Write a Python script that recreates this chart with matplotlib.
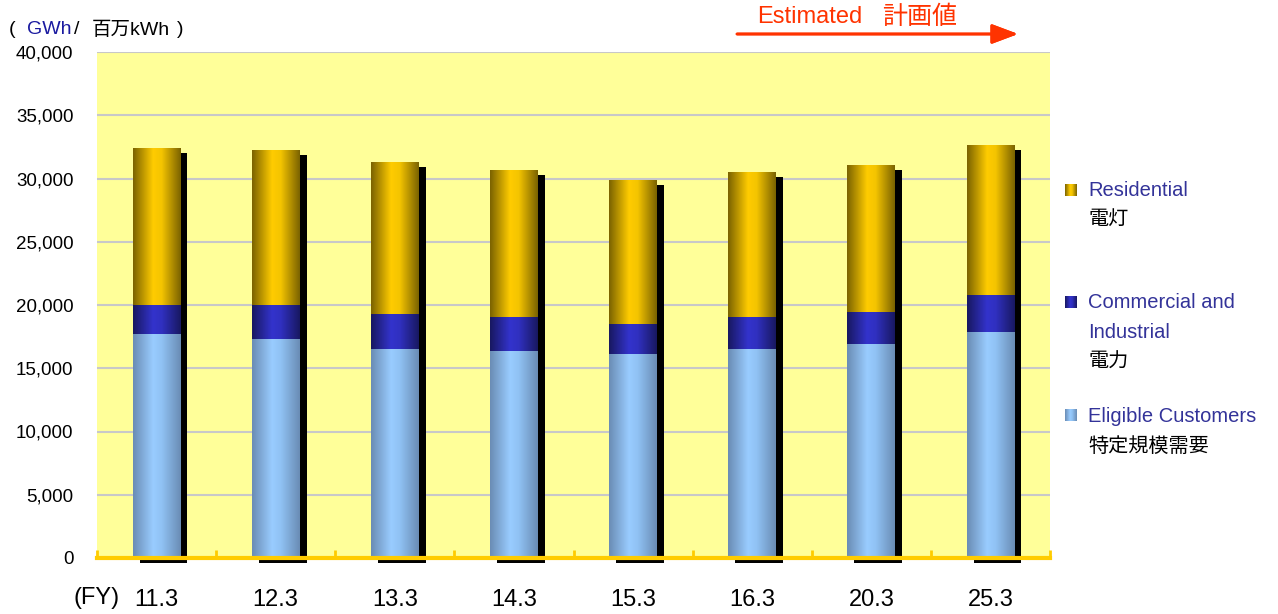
import numpy as np
import matplotlib
matplotlib.use('Agg')
import matplotlib.pyplot as plt
from matplotlib.colors import LinearSegmentedColormap
from matplotlib.transforms import ScaledTranslation
from matplotlib.ticker import FuncFormatter, FixedLocator

plt.rcParams['font.family'] = ['Liberation Sans', 'Noto Sans CJK JP', 'DejaVu Sans']

# fiscal years and demand (GWh)
years = ['11.3', '12.3', '13.3', '14.3', '15.3', '16.3', '20.3', '25.3']
eligible = [17700, 17300, 16500, 16350, 16150, 16500, 16900, 17900]
commercial = [2300, 2700, 2800, 2700, 2350, 2550, 2550, 2900]
residential = [12400, 12250, 12000, 11600, 11380, 11450, 11600, 11850]

# cylinder-ish shading: dark edge, bright middle, dark edge
grad_yellow = ['#7a6200', '#ffcc00', '#f4c400', '#7a6200']
grad_blue = ['#181860', '#3333cc', '#3030c0', '#181860']
grad_light = ['#6a8cb4', '#99ccff', '#90c2f4', '#6a8cb4']

def make_cmap(cols):
    return LinearSegmentedColormap.from_list('g', list(zip([0, 0.42, 0.6, 1], cols)))

fig = plt.figure(figsize=(12.78, 6.14), dpi=100)
ax = fig.add_axes([97/1278, 56/614, 953/1278, 506/614])
ax.set_facecolor('#ffff99')

x = np.arange(len(years))
width = 0.40
totals = np.array(eligible) + np.array(commercial) + np.array(residential)

# black drop shadow, shifted right/down
shift = ax.transData + ScaledTranslation(7/100, -5/100, fig.dpi_scale_trans)
ax.bar(x, totals, width, color='black', transform=shift, zorder=2, clip_on=False)

grad = np.linspace(0, 1, 256).reshape(1, -1)
bottom = np.zeros(len(years))
for vals, cols in [(eligible, grad_light), (commercial, grad_blue), (residential, grad_yellow)]:
    bars = ax.bar(x, vals, width, bottom=bottom, color='none', zorder=3)
    cm = make_cmap(cols)
    for b in bars:
        ax.imshow(grad, cmap=cm, aspect='auto', interpolation='bilinear',
                  extent=[b.get_x(), b.get_x() + b.get_width(), b.get_y(), b.get_y() + b.get_height()],
                  zorder=3)
    bottom = bottom + np.array(vals)

ax.set_xlim(-0.5, len(years) - 0.5)
ax.set_ylim(0, 40000)

ax.set_yticks(np.arange(0, 40001, 5000))
ax.yaxis.set_major_formatter(FuncFormatter(lambda v, p: f'{int(v):,}'))
ax.tick_params(axis='y', length=0, pad=17, labelsize=13.5)
ax.yaxis.grid(True, color='#c8c8c8', lw=1.5, zorder=0)
ax.set_axisbelow(True)

ax.set_xticks(x)
ax.set_xticklabels(years)
ax.tick_params(axis='x', which='major', length=0, pad=22, labelsize=17)
ax.xaxis.set_minor_locator(FixedLocator(np.arange(-0.5, len(years), 1.0)))
ax.tick_params(axis='x', which='minor', direction='in', length=6, width=2, color='#ffcc00')

for s in ['top', 'right', 'left']:
    ax.spines[s].set_visible(False)
ax.spines['bottom'].set_color('#ffcc00')
ax.spines['bottom'].set_linewidth(3)
ax.spines['bottom'].set_zorder(4)

fig.text(97/1278, 1 - 598/614, '(FY)', fontsize=17, ha='center', va='center')

# unit label
uy = 1 - 30/614
fig.text(9/1278, uy, '(', fontsize=14, va='center')
fig.text(27/1278, uy, 'GWh', fontsize=14, va='center', color='#1a1aa0')
fig.text(74/1278, uy, '/', fontsize=14, va='center')
fig.text(92/1278, uy, '百万kWh', fontsize=14, va='center')
fig.text(177/1278, uy, ')', fontsize=14, va='center')

# estimated arrow
red = '#ff3300'
fig.text(757/1278, 1 - 17/614, 'Estimated', fontsize=17, color=red, va='center')
fig.text(882/1278, 1 - 17/614, '計画値', fontsize=18, color=red, va='center')
fig.add_artist(plt.annotate('', xy=(1018/1278, 1 - 34/614), xytext=(737/1278, 1 - 34/614),
                            xycoords='figure fraction', textcoords='figure fraction',
                            arrowprops=dict(arrowstyle='-|>,head_length=0.8,head_width=0.3',
                                            mutation_scale=20, color=red, lw=2,
                                            shrinkA=0, shrinkB=0)))

# legend drawn by hand
leg_col = '#333399'
legend_items = [
    (grad_yellow, 190, [('Residential', 190, leg_col), ('電灯', 219, 'black')]),
    (grad_blue, 302, [('Commercial and', 302, leg_col), ('Industrial', 332, leg_col), ('電力', 362, 'black')]),
    (grad_light, 415, [('Eligible Customers', 416, leg_col), ('特定規模需要', 446, 'black')]),
]
for cols, sy, lines in legend_items:
    sq = fig.add_axes([1065/1278, 1 - (sy + 6)/614, 12/1278, 12/614])
    sq.imshow(grad, cmap=make_cmap(cols), aspect='auto')
    sq.axis('off')
    for txt, ty, c in lines:
        fig.text(1088/1278, 1 - ty/614, txt, fontsize=14.5, color=c, va='center')

fig.savefig('out.png', dpi=100)
